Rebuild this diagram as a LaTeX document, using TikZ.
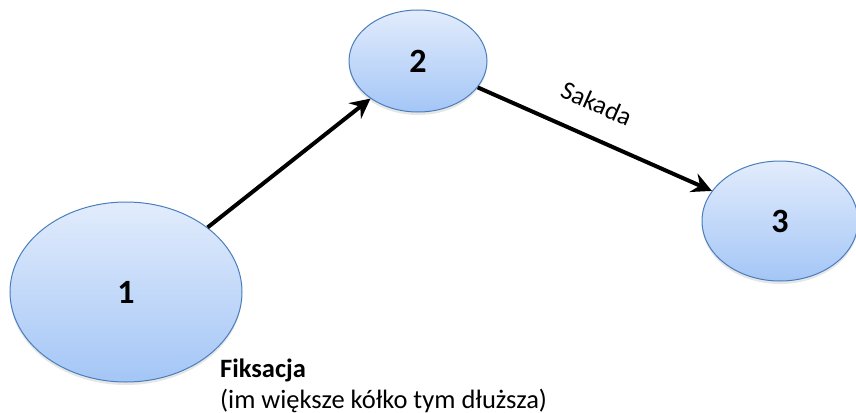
\documentclass[tikz,border=0pt]{standalone}
\usepackage{fontspec}
\setmainfont{Carlito}
\usetikzlibrary{shapes.geometric,shadows,arrows.meta}

\definecolor{fixtop}{RGB}{226,236,252}
\definecolor{fixbottom}{RGB}{164,198,246}
\definecolor{fixline}{RGB}{74,126,187}

\tikzset{
  fix/.style={ellipse, draw=fixline, line width=1pt, top color=fixtop, bottom color=fixbottom,
    inner sep=0pt, font=\fontsize{34}{40}\selectfont\bfseries,
    drop shadow={opacity=0.2, shadow xshift=0pt, shadow yshift=-3pt}},
  sakkada/.style={line width=4pt, -{Stealth[length=20pt, width=20pt, inset=7pt]}}
}

\begin{document}
\begin{tikzpicture}[x=1pt, y=-1pt]
  \useasboundingbox (0,0) rectangle (856,412);

  \node [fix, minimum width=232pt, minimum height=180pt] (f1) at (126,292) {1};
  \node [fix, minimum width=138pt, minimum height=102pt] (f2) at (418,61) {2};
  \node [fix, minimum width=156pt, minimum height=120pt] (f3) at (780,221) {3};

  \draw [sakkada] (f1) -- (f2);
  \draw [sakkada] (f2) -- node [sloped, above=19pt, pos=0.45, font=\fontsize{26}{30}\selectfont] {Sakada} (f3);

  \node [anchor=north west, align=left, inner sep=0pt, font=\fontsize{26.5}{31}\selectfont] (opis) at (220,359)
    {\textbf{Fiksacja}\\(im większe kółko tym dłuższa)};
\end{tikzpicture}
\end{document}
